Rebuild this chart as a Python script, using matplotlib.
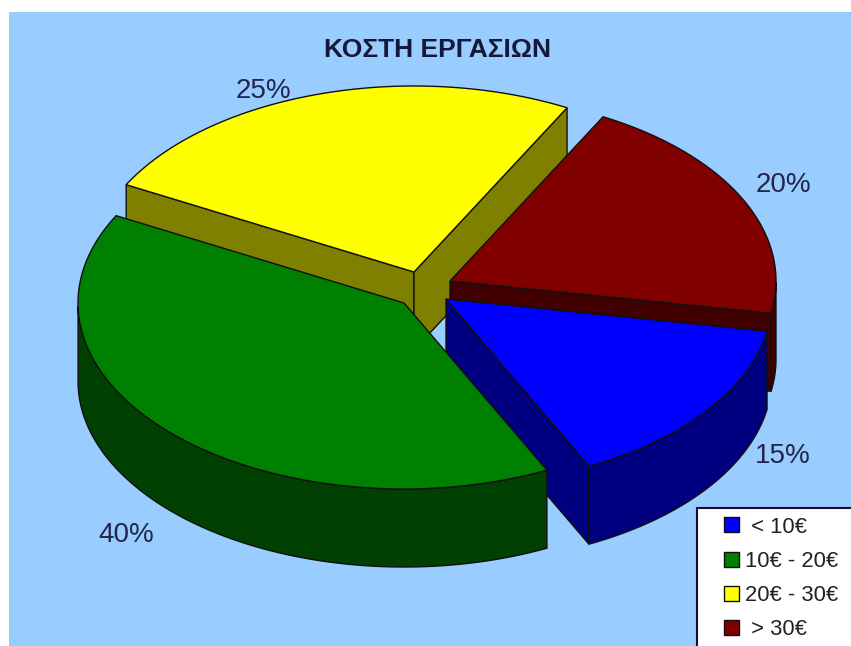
import numpy as np
import matplotlib
matplotlib.use("Agg")
import matplotlib.pyplot as plt
from matplotlib.patches import Polygon, Rectangle, Patch

plt.rcParams['font.family'] = ['Liberation Sans', 'DejaVu Sans']

title = "ΚΟΣΤΗ ΕΡΓΑΣΙΩΝ"
categories = [" < 10€", "10€ - 20€", "20€ - 30€", " > 30€"]
values = [15, 40, 25, 20]
pct_labels = ["15%", "40%", "25%", "20%"]
top_colors = ["#0000FF", "#008000", "#FFFF00", "#800000"]
side_colors = ["#000080", "#004000", "#808000", "#400000"]
label_pos = [(783, 456), (126, 535), (263, 91), (783, 185)]
explode_xy = [(19, 10), (-23, 14), (-13, -17), (23, -8)]
draw_order = [2, 3, 0, 1]

W, H = 851, 646
CX, CY = 427, 289
RX, RY = 326, 186
DEPTH = 78
START = -10.0

fig = plt.figure(figsize=(W / 100, H / 100), dpi=100, facecolor="white")
ax = fig.add_axes([0, 0, 1, 1])
ax.set_xlim(0, W)
ax.set_ylim(H, 0)
ax.axis("off")
ax.add_patch(Rectangle((9, 12), W, H, fc="#99CCFF", ec="none", zorder=0))

fracs = np.array(values, float) / sum(values)
edges = START - 360 * np.concatenate([[0], np.cumsum(fracs)])


def pt(cx, cy, deg):
    a = np.radians(deg)
    return cx + RX * np.cos(a), cy - RY * np.sin(a)


z = 1
EC = "#101010"
for i in draw_order:
    a1, a2 = edges[i], edges[i + 1]  # clockwise, a1 > a2
    mid = (a1 + a2) / 2
    ax_, ay_ = CX + explode_xy[i][0], CY + explode_xy[i][1]
    ang = np.linspace(a1, a2, 120)
    rim = np.array([pt(ax_, ay_, t) for t in ang])

    # cut faces facing the viewer
    for a in (a1, a2):
        r = np.radians(a)
        m = np.radians(mid)
        px_, py_ = -np.sin(r), np.cos(r)
        if px_ * np.cos(m) + py_ * np.sin(m) > 0:
            px_, py_ = -px_, -py_
        if py_ < 0:
            e = pt(ax_, ay_, a)
            ax.add_patch(Polygon([(ax_, ay_), e, (e[0], e[1] + DEPTH), (ax_, ay_ + DEPTH)],
                                 closed=True, fc=side_colors[i], ec=EC, lw=1, zorder=z))
            z += 1

    # outer wall (lower half of the ellipse only)
    front = ang[np.sin(np.radians(ang)) <= 0]
    if len(front) > 1:
        up = np.array([pt(ax_, ay_, t) for t in front])
        down = up + [0, DEPTH]
        ax.add_patch(Polygon(np.vstack([up, down[::-1]]), closed=True,
                             fc=side_colors[i], ec=EC, lw=1, zorder=z))
        z += 1

    # top surface
    ax.add_patch(Polygon(np.vstack([[ax_, ay_], rim]), closed=True,
                         fc=top_colors[i], ec=EC, lw=1, zorder=z))
    z += 1

for lab, (x, y) in zip(pct_labels, label_pos):
    ax.text(x, y, lab, ha="center", va="center", fontsize=20, color="#22264a", zorder=100)

ax.text(437, 50, title, ha="center", va="center", fontsize=19, fontweight="bold",
        color="#15183a", zorder=100)

ax.add_patch(Rectangle((697, 508), 300, 300, fc="white", ec="#101030", lw=1.5, zorder=110))
handles = [Patch(fc=c, ec="#101010", lw=1) for c in top_colors]
leg = ax.legend(handles, categories, loc="upper left", bbox_to_anchor=(717, 510),
                bbox_transform=ax.transData, frameon=False, borderaxespad=0, borderpad=0.3,
                fontsize=15.8, labelspacing=0.6, handlelength=0.68, handleheight=0.68,
                handletextpad=0.28, labelcolor="#222222")
leg.set_zorder(120)

fig.savefig("out.png", dpi=100, facecolor="white")
